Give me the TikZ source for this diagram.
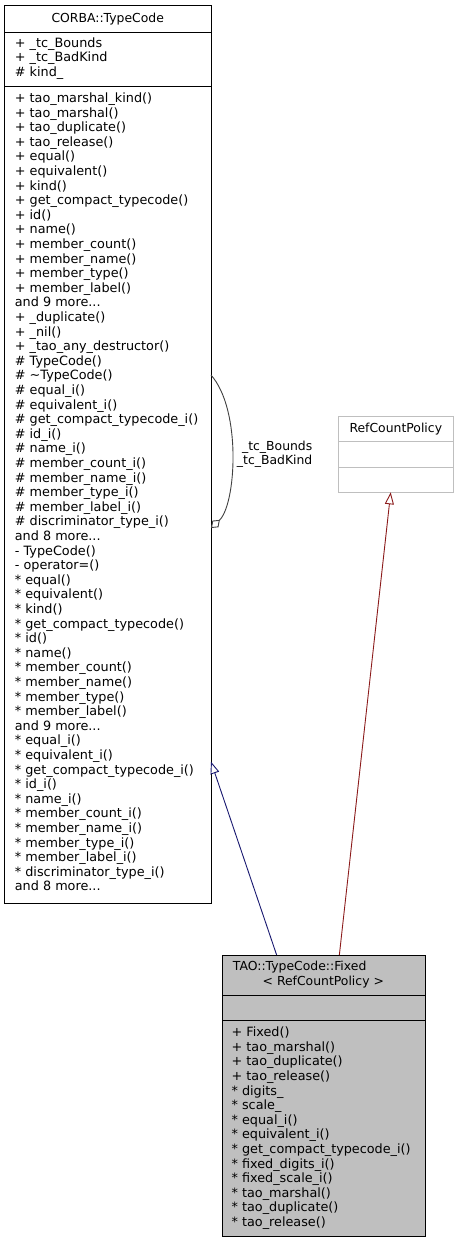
\documentclass[tikz,border=0pt]{standalone}
\usepackage{fontspec}
\setmainfont{DejaVu Sans}
\usetikzlibrary{arrows.meta,positioning}
\definecolor{inheritblue}{HTML}{191970}
\definecolor{templatered}{HTML}{8B1A1A}
\definecolor{boxgrey}{HTML}{BFBFBF}
\definecolor{usegrey}{HTML}{404040}
\newcommand{\umlfont}{\fontsize{12.4}{14.6}\selectfont}

\begin{document}
\begin{tikzpicture}[
                      x=1pt, y=-1pt, font=\umlfont,
                      classpart/.style = {rectangle, draw, line width=0.9pt, inner sep=0pt, outer sep=0pt},
                      memberlist/.style = {anchor=base west, align=left, inner sep=0pt, font=\fontsize{12.8}{14.6}\selectfont},
                      inherit/.style = {line width=0.9pt, -{Triangle[open, length=12pt, width=9pt, fill=white]}}
                  ]
                  \useasboundingbox (0,0) rectangle (459,1243);
                  % CORBA::TypeCode (lists are placed by their last baseline)
                  \node[classpart, anchor=north west, minimum width=206.5pt, minimum height=26.5pt] (tchead) at (4.5,5.5) {CORBA::TypeCode};
                  \node[classpart, below=0pt of tchead, minimum width=206.5pt, minimum height=54pt] (tcattr) {};
                  \node[classpart, below=0pt of tcattr, minimum width=206.5pt, minimum height=817pt] (tcops) {};
                  \node[memberlist] (tcattrtext) at (14.7,76.2) {+ \_tc\_Bounds\\+ \_tc\_BadKind\\\# kind\_};
                  \node[memberlist] (tcopstext) at (14.7,890.9) {+ tao\_marshal\_kind()\\+ tao\_marshal()\\+ tao\_duplicate()\\+ tao\_release()\\+ equal()\\+ equivalent()\\+ kind()\\+ get\_compact\_typecode()\\+ id()\\+ name()\\+ member\_count()\\+ member\_name()\\+ member\_type()\\+ member\_label()\\and 9 more...\\+ \_duplicate()\\+ \_nil()\\+ \_tao\_any\_destructor()\\\# TypeCode()\\\# \textasciitilde TypeCode()\\\# equal\_i()\\\# equivalent\_i()\\\# get\_compact\_typecode\_i()\\\# id\_i()\\\# name\_i()\\\# member\_count\_i()\\\# member\_name\_i()\\\# member\_type\_i()\\\# member\_label\_i()\\\# discriminator\_type\_i()\\and 8 more...\\- TypeCode()\\- operator=()\\* equal()\\* equivalent()\\* kind()\\* get\_compact\_typecode()\\* id()\\* name()\\* member\_count()\\* member\_name()\\* member\_type()\\* member\_label()\\and 9 more...\\* equal\_i()\\* equivalent\_i()\\* get\_compact\_typecode\_i()\\* id\_i()\\* name\_i()\\* member\_count\_i()\\* member\_name\_i()\\* member\_type\_i()\\* member\_label\_i()\\* discriminator\_type\_i()\\and 8 more...};
                  % RefCountPolicy
                  \node[classpart, draw=boxgrey, anchor=north west, minimum width=115pt, minimum height=25pt] (rchead) at (338.3,416.7) {RefCountPolicy};
                  \node[classpart, draw=boxgrey, below=0pt of rchead, minimum width=115pt, minimum height=25.6pt] (rcattr) {};
                  \node[classpart, draw=boxgrey, below=0pt of rcattr, minimum width=115pt, minimum height=25pt] (rcops) {};
                  % TAO::TypeCode::Fixed
                  \node[classpart, fill=boxgrey, anchor=north west, minimum width=202.3pt, minimum height=40pt] (fxhead) at (222.7,955) {};
                  \node[classpart, fill=boxgrey, below=0pt of fxhead, minimum width=202.3pt, minimum height=25pt] (fxattr) {};
                  \node[classpart, fill=boxgrey, below=0pt of fxattr, minimum width=202.3pt, minimum height=216pt] (fxops) {};
                  \node[anchor=base west, inner sep=0pt] (fxname) at (232.7,970.7) {TAO::TypeCode::Fixed};
                  \node[anchor=base, inner sep=0pt] (fxparam) at (323.3,985.7) {< RefCountPolicy >};
                  \node[memberlist] (fxopstext) at (231.4,1226.5) {+ Fixed()\\+ tao\_marshal()\\+ tao\_duplicate()\\+ tao\_release()\\* digits\_\\* scale\_\\* equal\_i()\\* equivalent\_i()\\* get\_compact\_typecode\_i()\\* fixed\_digits\_i()\\* fixed\_scale\_i()\\* tao\_marshal()\\* tao\_duplicate()\\* tao\_release()};
                  % relations
                  \draw[usegrey, line width=0.9pt, -{Diamond[open, length=12pt, width=9pt, fill=white]}]
                      ([yshift=119.5pt]tcops.east) .. controls (242,410) and (236,505) .. ([yshift=-33.5pt]tcops.east);
                  \node[anchor=base east, align=right, inner sep=0pt, font=\fontsize{12.4}{13.6}\selectfont] (tclabel) at (312.5,464.3) {\_tc\_Bounds\\\_tc\_BadKind};
                  \draw[inherit, inheritblue] ([xshift=-47.2pt]fxhead.north) -- ([yshift=-267.2pt]tcops.east);
                  \draw[inherit, templatered] ([xshift=15.5pt]fxhead.north) -- ([xshift=-5.1pt]rcops.south);
              \end{tikzpicture}
\end{document}
